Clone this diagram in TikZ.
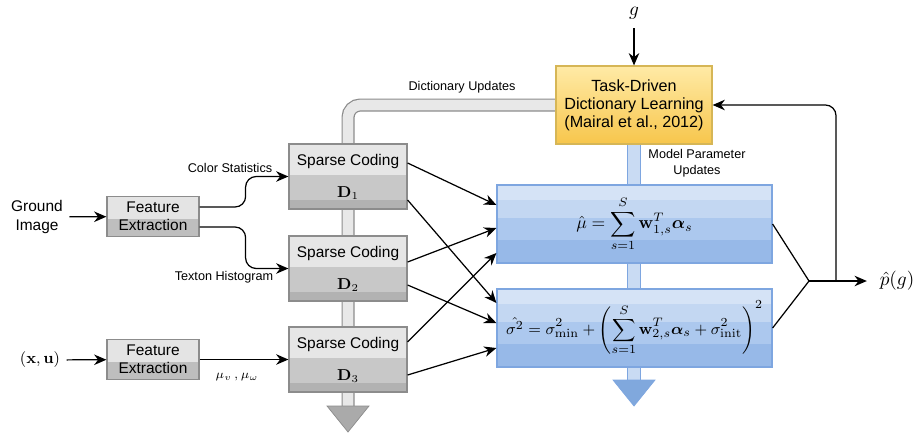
\documentclass[tikz,border=0pt]{standalone}
\usepackage{amsmath}
\usepackage[no-math]{fontspec}
\setmainfont{Liberation Sans}
\usetikzlibrary{arrows.meta,calc,backgrounds}

% colours
\definecolor{boxline}{HTML}{8C8C8C}
\definecolor{featlight}{HTML}{E4E4E4}
\definecolor{featdark}{HTML}{BEBEBE}
\definecolor{codelight}{HTML}{E6E6E6}
\definecolor{codemid}{HTML}{C8C8C8}
\definecolor{codedark}{HTML}{B2B2B2}
\definecolor{blueline}{HTML}{7EA6E0}
\definecolor{blueA}{HTML}{D5E3F6}
\definecolor{blueB}{HTML}{C3D7F2}
\definecolor{blueC}{HTML}{ACC8EE}
\definecolor{blueD}{HTML}{97B9E8}
\definecolor{taskline}{HTML}{D6B656}
\definecolor{taskA}{HTML}{FFEAA6}
\definecolor{taskB}{HTML}{F7C64C}
\definecolor{pipegray}{HTML}{E8E8E8}
\definecolor{pipeblue}{HTML}{C9DBF3}
\definecolor{headgray}{HTML}{AAAAAA}
\definecolor{headblue}{HTML}{80A8DD}

\tikzset{
  lbl/.style={font=\fontsize{7.2}{9}\selectfont},
  featbox/.style={draw=boxline, fill=featlight, minimum width=1.84cm, minimum height=0.8cm,
    inner sep=0pt, align=center,
    path picture={\fill[featdark] ($(path picture bounding box.south west)!0.45!(path picture bounding box.north west)$) rectangle (path picture bounding box.south east);}},
  codebox/.style={draw=boxline, fill=codelight, minimum width=2.36cm, minimum height=1.3cm,
    inner sep=0pt, align=center,
    path picture={
      \fill[codemid] ($(path picture bounding box.south west)!0.52!(path picture bounding box.north west)$) rectangle (path picture bounding box.south east);
      \fill[codedark] ($(path picture bounding box.south west)!0.14!(path picture bounding box.north west)$) rectangle (path picture bounding box.south east);}},
  mathbox/.style={draw=blueline, fill=blueA, minimum width=5.5cm, minimum height=1.56cm,
    inner sep=0pt,
    path picture={
      \fill[blueB] ($(path picture bounding box.south west)!0.81!(path picture bounding box.north west)$) rectangle (path picture bounding box.south east);
      \fill[blueC] ($(path picture bounding box.south west)!0.58!(path picture bounding box.north west)$) rectangle (path picture bounding box.south east);
      \fill[blueD] ($(path picture bounding box.south west)!0.29!(path picture bounding box.north west)$) rectangle (path picture bounding box.south east);}},
  taskbox/.style={draw=taskline, top color=taskA, bottom color=taskB, minimum width=3.12cm,
    minimum height=1.56cm, align=center, font=\fontsize{9.2}{10.3}\selectfont},
  dictpipe/.style={draw=boxline, line width=0.7pt, double=pipegray, double distance=6pt, rounded corners=7pt},
  modelpipe/.style={draw=blueline, line width=0.7pt, double=pipeblue, double distance=6.5pt}
}

\begin{document}
\begin{tikzpicture}[x=0.02cm, y=-0.02cm, line width=0.7pt,
  >={Stealth[length=7pt,width=6pt]},
  every node/.style={font=\fontsize{8.8}{10.4}\selectfont}]
  \useasboundingbox (0,0) rectangle (915,433);

  % inputs and feature extraction
  \node[align=center] (ground) at (37,217) {Ground\\Image};
  \node[featbox] (fe1) at (153,216.5) {Feature\\Extraction};
  \node (xu) at (40,360) {$(\mathbf{x},\mathbf{u})$};
  \node[featbox] (fe2) at (153,359.5) {Feature\\Extraction};

  % sparse coding
  \node[codebox] (sc1) at (348,176.5) {Sparse Coding\\[8pt]$\mathbf{D}_1$};
  \node[codebox] (sc2) at (348,268.5) {Sparse Coding\\[8pt]$\mathbf{D}_2$};
  \node[codebox] (sc3) at (348,359.5) {Sparse Coding\\[8pt]$\mathbf{D}_3$};

  % dictionary learning
  \node[taskbox] (task) at (634,105) {Task-Driven\\Dictionary Learning\\(Mairal et al., 2012)};
  \node[inner ysep=5pt, font=\fontsize{11}{13}\selectfont] (g) at (634,13) {$g$};

  % model
  \node[mathbox, font=\fontsize{10.3}{12}\selectfont] (mu) at (634.5,224)
    {$\displaystyle \hat{\mu} = \sum_{s=1}^{S} \mathbf{w}_{1,s}^{T}\boldsymbol{\alpha}_s$};
  \node[mathbox, font=\fontsize{9.4}{11}\selectfont] (sig) at (634.5,328)
    {$\displaystyle \hat{\sigma^2} = \sigma_{\min}^2 + \left(\sum_{s=1}^{S} \mathbf{w}_{2,s}^{T}\boldsymbol{\alpha}_s + \sigma_{\mathrm{init}}^2\right)^{2}$};
  \node[inner xsep=7pt, font=\fontsize{11}{13}\selectfont] (pg) at (897,281) {$\hat{p}(g)$};

  \coordinate (dictend) at (348,406);
  \coordinate (modelend) at (634,380);
  \coordinate (merge) at (809,281);
  \coordinate (fb) at (836,281);

  % update pipes
  \begin{scope}[on background layer]
    \draw[dictpipe] (task.west) -| (dictend);
    \filldraw[draw=boxline, fill=headgray] ($(dictend)+(-21,0)$) -- ($(dictend)+(21,0)$) -- ($(dictend)+(0,26)$) -- cycle;
    \draw[modelpipe] (task.south) -- (modelend);
    \filldraw[draw=blueline, fill=headblue] ($(modelend)+(-21,0)$) -- ($(modelend)+(21,0)$) -- ($(modelend)+(0,26)$) -- cycle;
  \end{scope}

  % labels
  \node[lbl] at (462,87) {Dictionary Updates};
  \node[lbl, align=center] at (697,163) {Model Parameter\\Updates};
  \node[lbl] at (230,168) {Color Statistics};
  \node[lbl] at (224,277) {Texton Histogram};
  \node[font=\fontsize{7}{8}\selectfont] at (237,377) {$\mu_v\,,\mu_\omega$};

  % connections
  \draw[->] (ground) -- (fe1);
  \draw[->] (xu) -- (fe2);
  \draw[->, rounded corners=6pt] ($(fe1.east)+(0,-9.5)$) -- ++(46,0) |- (sc1.west);
  \draw[->, rounded corners=6pt] ($(fe1.east)+(0,10.5)$) -- ++(46,0) |- (sc2.west);
  \draw[->] (fe2) -- (sc3);

  \draw[->] ($(sc1.east)+(0,-13.5)$) -- ($(mu.west)+(0,-19)$);
  \draw[->] ($(sc1.east)+(0,23.5)$) -- ($(sig.west)+(0,-25)$);
  \draw[->] ($(sc2.east)+(0,-6.5)$) -- ($(mu.west)+(0,4)$);
  \draw[->] ($(sc2.east)+(0,16.5)$) -- ($(sig.west)+(0,-5)$);
  \draw[->] ($(sc3.east)+(0,-17.5)$) -- ($(mu.west)+(0,29)$);
  \draw[->] ($(sc3.east)+(0,15.5)$) -- ($(sig.west)+(0,20)$);

  \draw (mu.east) -- (merge) -- (sig.east);
  \draw[->] (merge) -- (pg);
  \draw[->, rounded corners=6pt] (fb) |- (task.east);
  \draw[->] (g) -- (task);

\end{tikzpicture}
\end{document}
